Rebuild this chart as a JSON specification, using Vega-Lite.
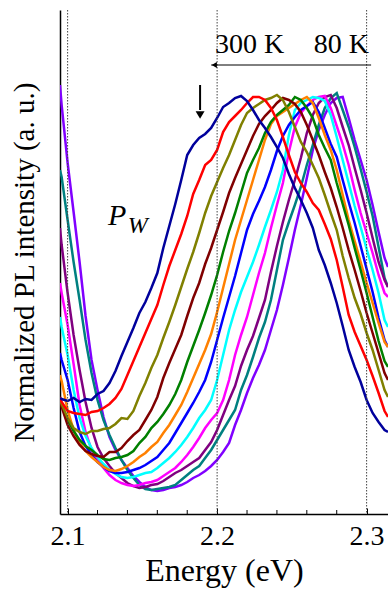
{
"$schema": "https://vega.github.io/schema/vega-lite/v6.json",
"width": 328, "height": 504,
"autosize": {"type": "none"},
"padding": {"left": 60, "top": 10, "right": 0, "bottom": 79},
"background": "white",
"config": {"view": {"stroke": null}, "font": "Liberation Serif",
"axis": {"labelOverlap": false, "labelFlush": false, "labelBound": false, "grid": false, "domainColor": "black", "domainWidth": 1.5, "titleFontWeight": "normal", "titleColor": "black", "labelColor": "black", "labelFont": "Liberation Serif", "titleFont": "Liberation Serif"}},
"datasets": {
"spectra": [
{"E":2.0949,"c01":429,"c02":344,"c03":286,"c04":231,"c05":197,"c06":161,"c07":139,"c08":116,"c09":114,"c10":114,"c11":117,"c12":116},
{"E":2.096,"c01":409,"c02":337,"c03":269,"c04":221,"c05":187,"c06":154,"c07":133,"c08":109,"c09":107,"c10":110,"c11":112,"c12":115},
{"E":2.100,"c01":351,"c02":294,"c03":221,"c04":189,"c05":159,"c06":134,"c07":104,"c08":94,"c09":89,"c10":96,"c11":103,"c12":113},
{"E":2.104,"c01":302,"c02":252,"c03":179,"c04":150,"c05":124,"c06":106,"c07":84,"c08":83,"c09":78,"c10":86,"c11":101,"c12":116},
{"E":2.108,"c01":252,"c02":214,"c03":144,"c04":109,"c05":96,"c06":82,"c07":71,"c08":74,"c09":69,"c10":82,"c11":100,"c12":112},
{"E":2.112,"c01":198,"c02":174,"c03":112,"c04":82,"c05":78,"c06":68,"c07":63,"c08":68,"c09":63,"c10":80,"c11":99,"c12":115},
{"E":2.116,"c01":154,"c02":141,"c03":86,"c04":64,"c05":66,"c06":59,"c07":57,"c08":64,"c09":60,"c10":83,"c11":102,"c12":114},
{"E":2.120,"c01":124,"c02":114,"c03":67,"c04":54,"c05":57,"c06":52,"c07":52,"c08":59,"c09":58,"c10":83,"c11":103,"c12":120},
{"E":2.124,"c01":97,"c02":94,"c03":56,"c04":46,"c05":50,"c06":47,"c07":47,"c08":55,"c09":57,"c10":85,"c11":106,"c12":123},
{"E":2.128,"c01":77,"c02":79,"c03":48,"c04":39,"c05":44,"c06":43,"c07":44,"c08":54,"c09":62,"c10":86,"c11":110,"c12":131},
{"E":2.132,"c01":64,"c02":66,"c03":41,"c04":34,"c05":40,"c06":41,"c07":43,"c08":56,"c09":62,"c10":90,"c11":116,"c12":143},
{"E":2.136,"c01":54,"c02":54,"c03":36,"c04":31,"c05":37,"c06":41,"c07":45,"c08":57,"c09":66,"c10":96,"c11":125,"c12":158},
{"E":2.140,"c01":46,"c02":44,"c03":31,"c04":29,"c05":36,"c06":42,"c07":48,"c08":59,"c09":73,"c10":95,"c11":139,"c12":172},
{"E":2.144,"c01":38,"c02":36,"c03":28,"c04":28,"c05":37,"c06":44,"c07":52,"c08":63,"c09":79,"c10":103,"c11":153,"c12":186},
{"E":2.148,"c01":32,"c02":29,"c03":26,"c04":29,"c05":39,"c06":46,"c07":57,"c08":71,"c09":84,"c10":118,"c11":167,"c12":201},
{"E":2.152,"c01":27,"c02":25,"c03":27,"c04":31,"c05":41,"c06":49,"c07":61,"c08":77,"c09":94,"c10":131,"c11":181,"c12":212},
{"E":2.156,"c01":24,"c02":24,"c03":29,"c04":32,"c05":42,"c06":53,"c07":67,"c08":86,"c09":104,"c10":146,"c11":195,"c12":226},
{"E":2.160,"c01":23,"c02":25,"c03":30,"c04":34,"c05":46,"c06":57,"c07":72,"c08":92,"c09":117,"c10":159,"c11":209,"c12":241},
{"E":2.164,"c01":24,"c02":26,"c03":33,"c04":38,"c05":51,"c06":64,"c07":81,"c08":100,"c09":136,"c10":176,"c11":229,"c12":266},
{"E":2.168,"c01":26,"c02":27,"c03":37,"c04":42,"c05":56,"c06":71,"c07":89,"c08":109,"c09":151,"c10":192,"c11":248,"c12":288},
{"E":2.172,"c01":27,"c02":29,"c03":41,"c04":46,"c05":62,"c06":81,"c07":99,"c08":120,"c09":165,"c10":209,"c11":264,"c12":310},
{"E":2.176,"c01":29,"c02":34,"c03":44,"c04":52,"c05":69,"c06":91,"c07":109,"c08":134,"c09":179,"c10":227,"c11":280,"c12":334},
{"E":2.180,"c01":32,"c02":39,"c03":48,"c04":59,"c05":77,"c06":101,"c07":122,"c08":152,"c09":198,"c10":245,"c11":298,"c12":359},
{"E":2.184,"c01":36,"c02":44,"c03":52,"c04":67,"c05":86,"c06":111,"c07":136,"c08":168,"c09":216,"c10":262,"c11":320,"c12":369},
{"E":2.188,"c01":39,"c02":48,"c03":56,"c04":76,"c05":96,"c06":122,"c07":150,"c08":184,"c09":231,"c10":281,"c11":334,"c12":376},
{"E":2.192,"c01":43,"c02":56,"c03":64,"c04":86,"c05":104,"c06":134,"c07":164,"c08":201,"c09":250,"c10":301,"c11":349,"c12":380},
{"E":2.196,"c01":48,"c02":64,"c03":72,"c04":94,"c05":114,"c06":152,"c07":180,"c08":219,"c09":266,"c10":318,"c11":354,"c12":386},
{"E":2.200,"c01":54,"c02":74,"c03":84,"c04":101,"c05":134,"c06":174,"c07":202,"c08":239,"c09":284,"c10":332,"c11":364,"c12":396},
{"E":2.204,"c01":62,"c02":84,"c03":99,"c04":114,"c05":159,"c06":196,"c07":226,"c08":262,"c09":302,"c10":346,"c11":382,"c12":407},
{"E":2.208,"c01":71,"c02":94,"c03":114,"c04":134,"c05":184,"c06":217,"c07":250,"c08":283,"c09":321,"c10":359,"c11":392,"c12":411},
{"E":2.212,"c01":89,"c02":104,"c03":128,"c04":159,"c05":204,"c06":238,"c07":274,"c08":301,"c09":336,"c10":374,"c11":398,"c12":416},
{"E":2.216,"c01":104,"c02":124,"c03":148,"c04":179,"c05":222,"c06":261,"c07":294,"c08":321,"c09":350,"c10":389,"c11":404,"c12":418},
{"E":2.220,"c01":121,"c02":139,"c03":164,"c04":197,"c05":237,"c06":284,"c07":314,"c08":341,"c09":364,"c10":401,"c11":411,"c12":413},
{"E":2.224,"c01":136,"c02":157,"c03":178,"c04":219,"c05":252,"c06":300,"c07":334,"c08":354,"c09":378,"c10":406,"c11":417,"c12":404},
{"E":2.228,"c01":149,"c02":176,"c03":196,"c04":241,"c05":269,"c06":313,"c07":354,"c08":366,"c09":390,"c10":410,"c11":417,"c12":394},
{"E":2.232,"c01":164,"c02":192,"c03":214,"c04":261,"c05":287,"c06":327,"c07":374,"c08":381,"c09":398,"c10":414,"c11":414,"c12":386},
{"E":2.236,"c01":184,"c02":214,"c03":242,"c04":286,"c05":304,"c06":344,"c07":390,"c08":392,"c09":404,"c10":416,"c11":406,"c12":377},
{"E":2.240,"c01":204,"c02":244,"c03":268,"c04":309,"c05":322,"c06":363,"c07":398,"c08":399,"c09":411,"c10":419,"c11":394,"c12":367},
{"E":2.244,"c01":229,"c02":274,"c03":292,"c04":331,"c05":344,"c06":378,"c07":402,"c08":404,"c09":416,"c10":414,"c11":377,"c12":356},
{"E":2.248,"c01":256,"c02":292,"c03":314,"c04":362,"c05":379,"c06":389,"c07":406,"c08":409,"c09":414,"c10":402,"c11":359,"c12":340},
{"E":2.252,"c01":284,"c02":309,"c03":334,"c04":387,"c05":404,"c06":397,"c07":410,"c08":417,"c09":410,"c10":387,"c11":342,"c12":326},
{"E":2.256,"c01":309,"c02":327,"c03":356,"c04":401,"c05":411,"c06":404,"c07":414,"c08":414,"c09":402,"c10":372,"c11":331,"c12":314},
{"E":2.260,"c01":336,"c02":349,"c03":381,"c04":408,"c05":414,"c06":408,"c07":417,"c08":406,"c09":389,"c10":362,"c11":322,"c12":301},
{"E":2.264,"c01":364,"c02":369,"c03":399,"c04":414,"c05":417,"c06":412,"c07":411,"c08":396,"c09":374,"c10":349,"c11":311,"c12":286},
{"E":2.268,"c01":384,"c02":389,"c03":411,"c04":417,"c05":416,"c06":402,"c07":396,"c08":379,"c09":359,"c10":336,"c11":304,"c12":264},
{"E":2.272,"c01":399,"c02":406,"c03":417,"c04":418,"c05":413,"c06":386,"c07":379,"c08":366,"c09":342,"c10":319,"c11":290,"c12":249},
{"E":2.276,"c01":411,"c02":416,"c03":419,"c04":406,"c05":399,"c06":370,"c07":364,"c08":354,"c09":326,"c10":301,"c11":275,"c12":231},
{"E":2.280,"c01":416,"c02":421,"c03":406,"c04":388,"c05":377,"c06":357,"c07":344,"c08":331,"c09":307,"c10":284,"c11":254,"c12":211},
{"E":2.284,"c01":417,"c02":404,"c03":387,"c04":370,"c05":354,"c06":334,"c07":319,"c08":310,"c09":286,"c10":258,"c11":227,"c12":188},
{"E":2.288,"c01":396,"c02":387,"c03":369,"c04":349,"c05":331,"c06":312,"c07":294,"c08":289,"c09":264,"c10":236,"c11":199,"c12":164},
{"E":2.292,"c01":374,"c02":367,"c03":346,"c04":324,"c05":308,"c06":291,"c07":273,"c08":266,"c09":244,"c10":216,"c11":182,"c12":147},
{"E":2.296,"c01":354,"c02":345,"c03":324,"c04":301,"c05":287,"c06":268,"c07":252,"c08":244,"c09":223,"c10":200,"c11":168,"c12":132},
{"E":2.300,"c01":334,"c02":322,"c03":301,"c04":281,"c05":265,"c06":245,"c07":231,"c08":221,"c09":201,"c10":181,"c11":154,"c12":114},
{"E":2.304,"c01":309,"c02":298,"c03":276,"c04":261,"c05":244,"c06":222,"c07":211,"c08":197,"c09":181,"c10":164,"c11":138,"c12":101},
{"E":2.308,"c01":282,"c02":267,"c03":252,"c04":239,"c05":221,"c06":196,"c07":191,"c08":173,"c09":161,"c10":144,"c11":121,"c12":92},
{"E":2.312,"c01":256,"c02":236,"c03":234,"c04":221,"c05":194,"c06":174,"c07":172,"c08":153,"c09":141,"c10":124,"c11":103,"c12":84},
{"E":2.3143,"c01":247,"c02":227,"c03":227,"c04":217,"c05":187,"c06":167,"c07":167,"c08":147,"c09":134,"c10":117,"c11":97,"c12":82}
],
"guides": [{"E":2.1},{"E":2.2},{"E":2.3}],
"minor": [{"E":2.12},{"E":2.14},{"E":2.16},{"E":2.18},{"E":2.22},{"E":2.24},{"E":2.26},{"E":2.28}],
"harrow": [{"E":2.196,"E2":2.303,"I":449}],
"varrow": [{"E":2.1886,"I":429,"I2":404}],
"heads": [{"E":2.1981,"I":449,"shape":"triangle-left","sz":35},{"E":2.1886,"I":399,"shape":"triangle-down","sz":80}],
"temps": [{"E":2.1985,"I":461,"t":"300 K"},{"E":2.2647,"I":461,"t":"80 K"}],
"pw": [{"E":2.127,"I":289,"t":"P"}],
"pwsub": [{"E":2.1403,"I":281,"t":"W"}]
},
"layer": [
{
"data": {"name": "spectra"},
"transform": [{"fold": ["c01","c02","c03","c04","c05","c06","c07","c08","c09","c10","c11","c12"], "as": ["series", "I"]}],
"mark": {"type": "line", "strokeWidth": 2.5, "clip": true},
"encoding": {
"x": {"field": "E", "type": "quantitative", "scale": {"domain": [2.0949, 2.3143], "nice": false, "zero": false},
"axis": {"values": [2.1, 2.2, 2.3], "format": ".1f", "tickSize": -6, "tickColor": "black", "tickWidth": 1,
"labelFont": "Liberation Serif", "labelFontSize": 28, "labelPadding": 14,
"title": "Energy (eV)", "titleFont": "Liberation Serif", "titleFontSize": 32, "titlePadding": 5}},
"y": {"field": "I", "type": "quantitative", "scale": {"domain": [0, 504], "nice": false},
"axis": {"ticks": false, "labels": false,
"title": "Normalized PL intensity (a. u.)", "titleFont": "Liberation Serif", "titleFontSize": 29, "titlePadding": 21}},
"color": {"field": "series", "type": "nominal", "legend": null,
"scale": {"domain": ["c01","c02","c03","c04","c05","c06","c07","c08","c09","c10","c11","c12"],
"range": ["#8000FF","#008080","#800080","#FF00FF","#00FFFF","#0000FF","#FF8000","#008000","#800000","#808000","#FF0000","#00009C"]}}
}
},
{
"data": {"name": "guides"},
"mark": {"type": "rule", "color": "#444444", "strokeWidth": 1, "strokeDash": [1.5, 1.5]},
"encoding": {"x": {"field": "E", "type": "quantitative"}}
},
{
"data": {"name": "minor"},
"mark": {"type": "rule", "color": "black", "strokeWidth": 1},
"encoding": {"x": {"field": "E", "type": "quantitative"}, "y": {"datum": 0, "type": "quantitative"}, "y2": {"datum": 4}}
},
{
"mark": {"type": "rule", "color": "black", "strokeWidth": 1.5},
"encoding": {"y": {"datum": 504, "type": "quantitative", "scale": {"domain": [0, 504]}}}
},
{
"data": {"name": "harrow"},
"mark": {"type": "rule", "color": "black", "strokeWidth": 1},
"encoding": {"x": {"field": "E", "type": "quantitative"}, "x2": {"field": "E2"}, "y": {"field": "I", "type": "quantitative"}}
},
{
"data": {"name": "varrow"},
"mark": {"type": "rule", "color": "black", "strokeWidth": 2},
"encoding": {"x": {"field": "E", "type": "quantitative"}, "y": {"field": "I", "type": "quantitative"}, "y2": {"field": "I2"}}
},
{
"data": {"name": "heads"},
"mark": {"type": "point", "filled": true, "color": "black", "opacity": 1},
"encoding": {"x": {"field": "E", "type": "quantitative"}, "y": {"field": "I", "type": "quantitative"},
"shape": {"field": "shape", "type": "nominal", "scale": null}, "size": {"field": "sz", "type": "quantitative", "scale": null}}
},
{
"data": {"name": "temps"},
"mark": {"type": "text", "align": "left", "baseline": "alphabetic", "font": "Liberation Serif", "fontSize": 28, "color": "black"},
"encoding": {"x": {"field": "E", "type": "quantitative"}, "y": {"field": "I", "type": "quantitative"}, "text": {"field": "t"}}
},
{
"data": {"name": "pw"},
"mark": {"type": "text", "align": "left", "baseline": "alphabetic", "font": "Liberation Serif", "fontSize": 30, "fontStyle": "italic", "color": "black"},
"encoding": {"x": {"field": "E", "type": "quantitative"}, "y": {"field": "I", "type": "quantitative"}, "text": {"field": "t"}}
},
{
"data": {"name": "pwsub"},
"mark": {"type": "text", "align": "left", "baseline": "alphabetic", "font": "Liberation Serif", "fontSize": 24, "fontStyle": "italic", "color": "black"},
"encoding": {"x": {"field": "E", "type": "quantitative"}, "y": {"field": "I", "type": "quantitative"}, "text": {"field": "t"}}
}
]
}
